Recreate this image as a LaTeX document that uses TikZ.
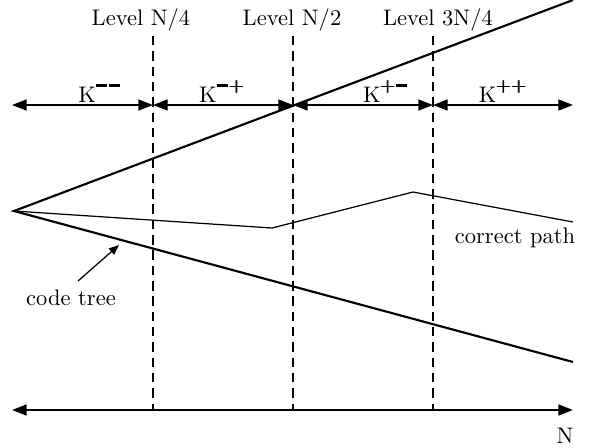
\documentclass[tikz,border=0pt]{standalone}
\usepackage{amsmath,amssymb}
\usetikzlibrary{arrows.meta,positioning}

\newcommand{\km}{\rule[2.4pt]{5pt}{1.3pt}\hspace{0.7pt}}
\newcommand{\kp}{\raisebox{0.1pt}{$\pmb{+}$}\hspace{0.2pt}}
\newcommand{\kname}[1]{K\raisebox{4.4pt}{\footnotesize #1}}

\begin{document}
\begin{tikzpicture}[x=0.444pt,y=-0.444pt,>={Triangle[length=6.5pt,width=4.8pt]},
    thick line/.style={line width=0.95pt},
    level line/.style={line width=0.95pt,dash pattern=on 4.2pt off 2.6pt},
    thin line/.style={line width=0.55pt}]
    \useasboundingbox (0,0) rectangle (590,447);
    % levels
    \coordinate (q1) at (153,36);  \coordinate (q1b) at (153,410);
    \coordinate (q2) at (293,36);  \coordinate (q2b) at (293,410);
    \coordinate (q3) at (433,36);  \coordinate (q3b) at (433,410);
    \draw[level line] (q1) -- (q1b);
    \draw[level line] (q2) -- (q2b);
    \draw[level line] (q3) -- (q3b);
    \node (lq1) at (141,20) {Level N/4};
    \node (lq2) at (292,20) {Level N/2};
    \node (lq3) at (438,20) {Level 3N/4};
    % key ranges
    \coordinate (r0) at (12,105);
    \coordinate (r1) at (153,105);
    \coordinate (r2) at (293,105);
    \coordinate (r3) at (433,105);
    \coordinate (r4) at (573,105);
    \path[thick line,<->]
      (r0) edge (r1)
      (r1) edge (r2)
      (r2) edge (r3)
      (r3) edge (r4);
    \node[anchor=base] (kmm) at (100,102) {\kname{\km\km}};
    \node[anchor=base] (kmp) at (222,102) {\kname{\km\kp}};
    \node[anchor=base] (kpm) at (386,102) {\kname{\kp\km}};
    \node[anchor=base] (kpp) at (503,102) {\kname{\kp\kp}};
    % code tree
    \coordinate (apex) at (14,211);
    \coordinate (upper) at (573,0);
    \coordinate (lower) at (573,362);
    \draw[thick line] (upper) -- (apex) -- (lower);
    % correct path
    \coordinate (c1) at (272,228);
    \coordinate (c2) at (413,192);
    \coordinate (c3) at (573,222);
    \draw[thin line] (apex) -- (c1) -- (c2) -- (c3);
    \node (cp) at (515,238) {correct path};
    \node (ct) at (71,298) {code tree};
    \coordinate (ctail) at (78,281);
    \coordinate (ctip) at (119,245);
    \draw[thin line,-{Triangle[length=4.5pt,width=3.6pt]}] (ctail) -- (ctip);
    % N axis
    \coordinate (n0) at (12,410);
    \coordinate (n1) at (573,410);
    \draw[thick line,<->] (n0) -- (n1);
    \node (nn) at (565,436) {N};
\end{tikzpicture}
\end{document}
